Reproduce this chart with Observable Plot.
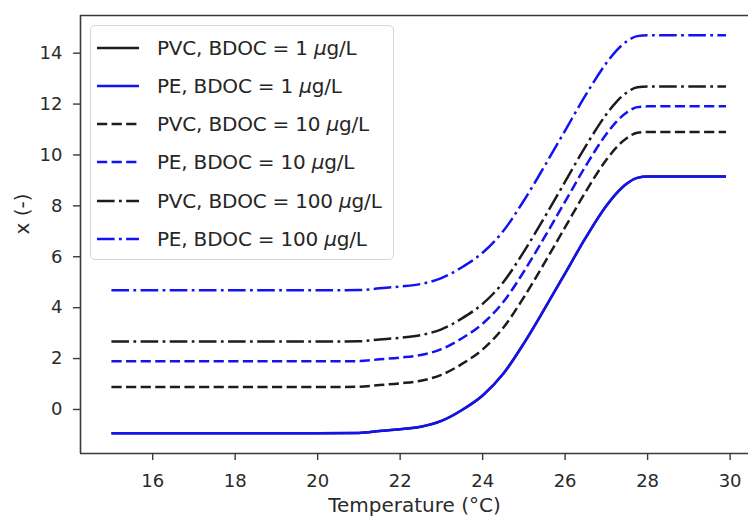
<!DOCTYPE html>
<html>
<head>
<meta charset="utf-8">
<script src="https://cdn.jsdelivr.net/npm/d3@7"></script>
<script src="https://cdn.jsdelivr.net/npm/@observablehq/plot@0.6"></script>
<style>
  html, body { margin: 0; padding: 0; background: #fff; }
  #wrap { position: relative; width: 748px; height: 516px; overflow: hidden; font-family: "DejaVu Sans", sans-serif; }
  #legend { position: absolute; left: 90px; top: 25px; width: 304px; height: 235px; box-sizing: border-box;
            border: 1px solid #d6d6d6; border-radius: 5px; background: rgba(255,255,255,0.85); }
  .row { position: absolute; left: 0; height: 38px; display: flex; align-items: center; }
  .row svg { margin-left: 6px; margin-right: 18px; }
  .row span { font-size: 20px; letter-spacing: -0.2px; color: #262626; white-space: nowrap; }
  .row span i { font-style: italic; }
</style>
</head>
<body>
<div id="wrap"></div>
<script>
// ---- data ----
const temps = [15,16,17,18,19,20,21,21.5,22,22.5,23,23.5,24,24.5,25,25.5,26,26.5,27,27.25,27.5,27.75,28,29,29.9];
const pvc1   = [-0.93,-0.93,-0.93,-0.93,-0.93,-0.93,-0.92,-0.85,-0.78,-0.68,-0.45,-0.02,0.55,1.4,2.6,3.95,5.35,6.75,8.0,8.5,8.88,9.1,9.15,9.15,9.15];
const pe1    = [-0.93,-0.93,-0.93,-0.93,-0.93,-0.93,-0.92,-0.85,-0.78,-0.68,-0.45,-0.02,0.55,1.4,2.6,3.95,5.35,6.75,8.0,8.5,8.88,9.1,9.15,9.15,9.15];
const pvc10  = [0.88,0.88,0.88,0.88,0.88,0.88,0.89,0.96,1.03,1.13,1.36,1.79,2.36,3.21,4.41,5.76,7.16,8.56,9.81,10.31,10.67,10.87,10.9,10.9,10.9];
const pe10   = [1.89,1.89,1.89,1.89,1.89,1.89,1.90,1.97,2.04,2.14,2.37,2.80,3.37,4.22,5.42,6.77,8.17,9.57,10.82,11.32,11.68,11.88,11.91,11.91,11.91];
const pvc100 = [2.67,2.67,2.67,2.67,2.67,2.67,2.68,2.75,2.82,2.92,3.15,3.58,4.15,5.0,6.2,7.55,8.95,10.35,11.6,12.1,12.46,12.66,12.69,12.69,12.69];
const pe100  = [4.68,4.68,4.68,4.68,4.68,4.68,4.69,4.76,4.83,4.93,5.16,5.59,6.16,7.01,8.21,9.56,10.96,12.36,13.61,14.11,14.47,14.67,14.70,14.70,14.70];

const seriesPlastic = ["PVC", "PE", "PVC", "PE", "PVC", "PE"];
const seriesBdoc    = ["1", "1", "10", "10", "100", "100"];
const seriesValues  = [pvc1, pe1, pvc10, pe10, pvc100, pe100];
const seriesColors  = ["#1c1c1c", "#1212f2", "#1c1c1c", "#1212f2", "#1c1c1c", "#1212f2"];
const seriesDash    = ["none", "none", "10.2,4.4", "10.2,4.4", "17.6,4.4,2.75,4.4", "17.6,4.4,2.75,4.4"];

const xTicks = [16,18,20,22,24,26,28,30];
const yTicks = [0,2,4,6,8,10,12,14];
const xDomain = [14.25, 30.64];
const yDomain = [-1.73, 15.48];
const xLabel = "Temperature (\u00b0C)";
const yLabel = "x (-)";

// ---- build ----
const lineMarks = seriesValues.map((vals, i) =>
  Plot.line(temps.map((t, j) => ({t, v: vals[j]})), {
    x: "t", y: "v", stroke: seriesColors[i], strokeWidth: 2.5,
    strokeDasharray: seriesDash[i], strokeLinecap: "butt", curve: "monotone-x"
  })
);

const spineColor = "#3a3a3a";
const chart = Plot.plot({
  width: 748, height: 516,
  marginLeft: 80, marginTop: 15, marginBottom: 63, marginRight: 0,
  style: { fontFamily: "DejaVu Sans, sans-serif", fontSize: "18px", color: "#2a2a2a", background: "#fff" },
  x: { domain: xDomain, range: [80, 756] },
  y: { domain: yDomain },
  marks: [
    ...lineMarks,
    Plot.ruleY([yDomain[0], yDomain[1]], { x1: xDomain[0], x2: xDomain[1], stroke: spineColor, strokeWidth: 1.6 }),
    Plot.ruleX([xDomain[0]], { y1: yDomain[0], y2: yDomain[1], stroke: spineColor, strokeWidth: 1.6 }),
    Plot.axisX({ ticks: xTicks, tickSize: 7, tickPadding: 14, label: null, stroke: spineColor, strokeWidth: 1.4 }),
    Plot.axisY({ ticks: yTicks, tickSize: 7, tickPadding: 11, label: null, stroke: spineColor, strokeWidth: 1.4 }),
    Plot.text([xLabel], { frameAnchor: "bottom", dy: 52, lineAnchor: "middle", fontSize: 20, fill: "#2a2a2a" }),
    Plot.text([yLabel], { frameAnchor: "left", dx: -58, rotate: -90, lineAnchor: "middle", fontSize: 20, fill: "#2a2a2a" })
  ]
});

const wrap = document.getElementById("wrap");
wrap.appendChild(chart);

// legend (inside axes, upper-left)
const legend = document.createElement("div");
legend.id = "legend";
seriesPlastic.forEach((p, i) => {
  const row = document.createElement("div");
  row.className = "row";
  row.style.top = (2.5 + i * 38.3) + "px";
  const ns = "http://www.w3.org/2000/svg";
  const s = document.createElementNS(ns, "svg");
  s.setAttribute("width", "42"); s.setAttribute("height", "10");
  const l = document.createElementNS(ns, "line");
  l.setAttribute("x1", "0"); l.setAttribute("x2", "42");
  l.setAttribute("y1", "5"); l.setAttribute("y2", "5");
  l.setAttribute("stroke", seriesColors[i]);
  l.setAttribute("stroke-width", "2.5");
  if (seriesDash[i] !== "none") l.setAttribute("stroke-dasharray", seriesDash[i]);
  s.appendChild(l);
  const sp = document.createElement("span");
  sp.append(`${p}, BDOC = ${seriesBdoc[i]} `);
  const mu = document.createElement("i");
  mu.textContent = "\u03bc";
  sp.append(mu, "g/L");
  row.appendChild(s); row.appendChild(sp);
  legend.appendChild(row);
});
wrap.appendChild(legend);
</script>
</body>
</html>
